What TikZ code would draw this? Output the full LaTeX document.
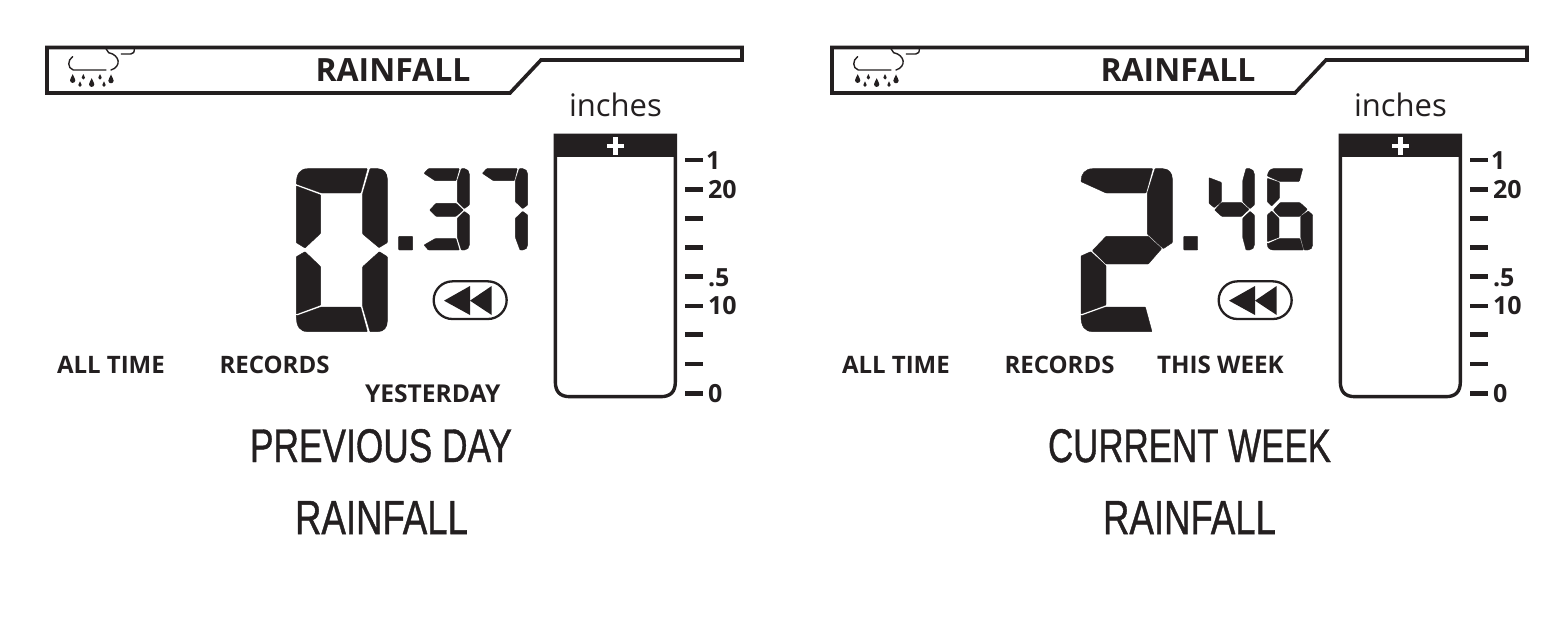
\documentclass[tikz,border=0pt]{standalone}
\usepackage{fontspec}
\usepackage{graphicx}
\setmainfont{Open Sans}
\newfontfamily\capfont[FakeBold=1]{Liberation Sans}
\definecolor{ink}{HTML}{231F20}
\newcommand{\fsz}[1]{\fontsize{#1}{#1}\selectfont}
\newcommand{\cond}[3]{\resizebox{#1pt}{#2pt}{\capfont\fsz{40}#3}}
\tikzset{
  seg/.style={fill=ink,draw=ink,line width=0.35pt,rounded corners=0.6pt},
  lbl/.style={inner sep=0pt,outer sep=0pt,text=ink,font=\bfseries\fsz{24}},
  scl/.style={inner sep=0pt,outer sep=0pt,text=ink,anchor=base west,font=\bfseries\fsz{25}},
  captext/.style={inner sep=0pt,outer sep=0pt,text=ink,anchor=base west},
  zoomed/.style={x=0.33333pt,y=-0.33333pt},
  frameline/.style={draw=ink,line width=3.6pt,line join=miter},
  iconline/.style={draw=ink,line width=1.4pt,line cap=round},
}
\newcommand{\dropat}[3]{\fill[ink,shift={(#1,#2)}] (0,-2.2*#3) .. controls (0.4*#3,-1*#3) and (#3,-0.5*#3) .. (#3,0.1*#3) arc[start angle=0,end angle=180,radius=#3] .. controls (-#3,-0.5*#3) and (-0.4*#3,-1*#3) .. (0,-2.2*#3) -- cycle;}
\newcommand{\panel}[2]{%
 \begin{scope}[shift={(#1,0)}]
  % header frame
  \draw[frameline] (47,47.5) -- (742,47.5) -- (742,60) -- (541,60) -- (510,93) -- (47,93) -- cycle;
  \node[lbl,anchor=base west] (#2head) at (315.5,81) {\fsz{32}RAINFALL};
  % cloud icon
  \begin{scope}[shift={(30,30)},zoomed]
   \draw[iconline] (128,80) .. controls (112,90) and (112,115) .. (130,120) -- (228,120);
   \draw[iconline] (243,120) .. controls (275,110) and (270,75) .. (236,68) -- (228,56);
   \draw[iconline] (274,72) -- (302,72) .. controls (311,72) and (313,66) .. (313,56);
   \dropat{128}{150}{8}\dropat{160}{143}{5}\dropat{150}{165}{5}\dropat{185}{162}{8}
   \dropat{210}{143}{5}\dropat{222}{165}{5}\dropat{243}{151}{8}
  \end{scope}
  % bar gauge
  \begin{scope}[shift={(540,120)},zoomed]
   \draw[draw=ink,line width=3.4pt] (46,46) -- (46,785) .. controls (46,815) and (60,830) .. (90,830) -- (362,830) .. controls (392,830) and (406,815) .. (406,785) -- (406,46) -- cycle;
   \fill[ink] (41,41) rectangle (411,111);
   \fill[white] (200,71) rectangle (252,85);
   \fill[white] (219,52) rectangle (233,104);
   \foreach \ty in {120,208,296,382,470,558,644,732,820}
     \fill[ink] (435,\ty-7) rectangle (488,\ty+7);
  \end{scope}
  \node[captext,font=\fsz{31}] (#2unit) at (569,116) {inches};
  \node[scl] (#2s1) at (706,169) {1};
  \node[scl] (#2s2) at (708,198) {20};
  \node[scl] (#2s3) at (708,286) {.5};
  \node[scl] (#2s4) at (708,314) {10};
  \node[scl] (#2s5) at (708,402) {0};
  \node[lbl,anchor=base west] (#2at) at (57,373) {ALL TIME};
  \node[lbl,anchor=base west] (#2rec) at (219.5,373) {RECORDS};
  % common LCD parts
  \begin{scope}[shift={(280,150)},zoomed]
   \fill[seg] (356,259) rectangle (398,300);
   \draw[draw=ink,line width=2.3pt,rounded corners=18.8pt] (461,394) rectangle (680,507);
   \fill[ink] (492,452) -- (570,408) -- (570,495) -- cycle;
   \fill[ink] (570,452) -- (635,408) -- (635,495) -- cycle;
  \end{scope}
 \end{scope}}
\begin{document}
\begin{tikzpicture}[x=1pt,y=-1pt]
\useasboundingbox (0,0) rectangle (1568,622);
\fill[white] (0,0) rectangle (1568,622);
\panel{0}{a}
\panel{785}{b}
% left value 0.37
\begin{scope}[shift={(280,150)},zoomed]
 % big 0
 \filldraw[seg] (49,102) .. controls (49,72) and (60,56) .. (85,56) -- (262,56) -- (242,129) -- (124,129) -- cycle;
 \filldraw[seg] (270,56) -- (292,56) .. controls (312,56) and (322,70) .. (322,88) -- (322,278) -- (297,293) -- (248,252) -- (248,130) -- cycle;
 \filldraw[seg] (49,108) -- (122,135) -- (122,250) -- (75,294) -- (49,278) -- cycle;
 \filldraw[seg] (49,320) -- (75,305) -- (122,350) -- (122,465) -- (49,492) -- cycle;
 \filldraw[seg] (298,305) -- (322,320) -- (322,512) .. controls (322,532) and (312,545) .. (292,545) -- (270,545) -- (248,470) -- (248,350) -- cycle;
 \filldraw[seg] (49,498) -- (124,471) -- (242,471) -- (262,545) -- (85,545) .. controls (60,545) and (49,530) .. (49,498) -- cycle;
 % small 3
 \filldraw[seg] (432,70) -- (445,56) -- (538,56) -- (528,92) -- (465,92) -- cycle;
 \filldraw[seg] (449,180) -- (468,160) -- (528,160) -- (550,180) -- (528,199) -- (468,199) -- cycle;
 \filldraw[seg] (544,56) -- (552,56) .. controls (562,56) and (568,64) .. (568,74) -- (568,165) -- (553,176) -- (532,155) -- (532,92) -- cycle;
 \filldraw[seg] (553,184) -- (568,195) -- (568,283) .. controls (568,293) and (562,300) .. (552,300) -- (544,300) -- (532,262) -- (532,205) -- cycle;
 \filldraw[seg] (432,285) -- (465,266) -- (528,266) -- (538,300) -- (445,300) -- cycle;
 % small 7
 \filldraw[seg] (607,70) -- (620,56) -- (712,56) -- (703,92) -- (640,92) -- cycle;
 \filldraw[seg] (718,56) -- (727,56) .. controls (737,56) and (743,64) .. (743,74) -- (743,165) -- (728,176) -- (706,155) -- (706,92) -- cycle;
 \filldraw[seg] (728,184) -- (743,195) -- (743,283) .. controls (743,293) and (737,300) .. (727,300) -- (720,300) -- (706,262) -- (706,205) -- cycle;
\end{scope}
% right value 2.46
\begin{scope}[shift={(1070,150)},zoomed]
 % big 2
 \filldraw[seg] (33,95) .. controls (33,72) and (45,56) .. (70,56) -- (248,56) -- (228,129) -- (108,129) -- cycle;
 \filldraw[seg] (255,56) -- (277,56) .. controls (297,56) and (307,70) .. (307,88) -- (307,278) -- (280,296) -- (232,252) -- (232,129) -- cycle;
 \filldraw[seg] (67,302) -- (108,259) -- (235,259) -- (275,296) -- (235,342) -- (108,342) -- cycle;
 \filldraw[seg] (33,318) -- (62,305) -- (108,347) -- (108,465) -- (33,492) -- cycle;
 \filldraw[seg] (33,498) -- (108,471) -- (226,471) -- (246,545) -- (70,545) .. controls (45,545) and (33,530) .. (33,498) -- cycle;
 % small 4
 \filldraw[seg] (417,83) -- (454,97) -- (454,155) -- (433,173) -- (417,160) -- cycle;
 \filldraw[seg] (434,180) -- (454,158) -- (515,158) -- (537,178) -- (515,199) -- (455,199) -- cycle;
 \filldraw[seg] (528,56) -- (537,56) .. controls (547,56) and (553,64) .. (553,74) -- (553,165) -- (540,176) -- (518,155) -- (518,92) -- cycle;
 \filldraw[seg] (540,184) -- (553,195) -- (553,283) .. controls (553,293) and (547,300) .. (537,300) -- (528,300) -- (518,262) -- (518,205) -- cycle;
 % small 6
 \filldraw[seg] (592,78) .. controls (594,64) and (602,56) .. (612,56) -- (698,56) -- (688,94) -- (628,94) -- cycle;
 \filldraw[seg] (592,85) -- (628,97) -- (628,145) -- (605,168) -- (592,155) -- cycle;
 \filldraw[seg] (610,180) -- (630,158) -- (690,158) -- (712,178) -- (690,199) -- (628,199) -- cycle;
 \filldraw[seg] (592,195) -- (605,183) -- (627,205) -- (627,262) -- (592,275) -- cycle;
 \filldraw[seg] (692,199) -- (715,183) -- (728,195) -- (728,283) .. controls (728,293) and (722,300) .. (712,300) -- (702,300) -- (692,262) -- cycle;
 \filldraw[seg] (592,282) -- (627,266) -- (690,266) -- (700,300) -- (612,300) .. controls (600,300) and (592,294) .. (592,282) -- cycle;
\end{scope}
\node[lbl,anchor=base west,font=\bfseries\fsz{24.6}] (ayest) at (365,402) {YESTERDAY};
\node[lbl,anchor=base west,font=\bfseries\fsz{24.2}] (bweek) at (1157,373) {THIS WEEK};
\node[captext] (acap1) at (250,462) {\cond{262}{33}{PREVIOUS DAY}};
\node[captext] (acap2) at (295,534) {\cond{173}{33}{RAINFALL}};
\node[captext] (bcap1) at (1048,462) {\cond{283}{33}{CURRENT WEEK}};
\node[captext] (bcap2) at (1103,534) {\cond{173}{33}{RAINFALL}};
\end{tikzpicture}
\end{document}
